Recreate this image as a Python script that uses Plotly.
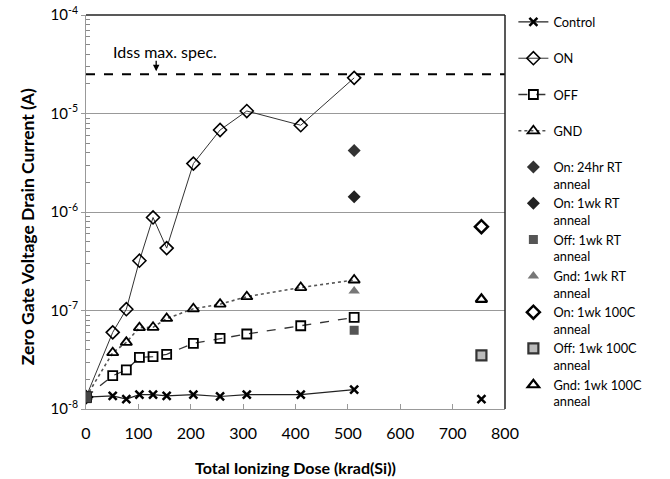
import plotly.graph_objects as go

# ---- data ----
dose = [0, 51, 77, 102, 128, 154, 205, 256, 307, 410, 512]
control = [1.32e-8, 1.36e-8, 1.26e-8, 1.4e-8, 1.4e-8, 1.36e-8, 1.4e-8, 1.34e-8, 1.4e-8, 1.4e-8, 1.57e-8]
on_bias = [1.32e-8, 6.0e-8, 1.03e-7, 3.2e-7, 8.8e-7, 4.3e-7, 3.1e-6, 6.8e-6, 1.06e-5, 7.6e-6, 2.3e-5]
off_bias = [1.32e-8, 2.18e-8, 2.49e-8, 3.35e-8, 3.4e-8, 3.59e-8, 4.64e-8, 5.22e-8, 5.77e-8, 7.0e-8, 8.5e-8]
gnd_bias = [1.32e-8, 3.73e-8, 4.75e-8, 6.7e-8, 6.75e-8, 8.3e-8, 1.04e-7, 1.16e-7, 1.38e-7, 1.71e-7, 2.04e-7]

anneal_rt_dose = [512]
on_24hr_rt = [4.2e-6]
on_1wk_rt = [1.43e-6]
off_1wk_rt = [6.3e-8]
gnd_1wk_rt = [1.58e-7]

anneal_100c_dose = [755]
on_1wk_100c = [7.1e-7]
off_1wk_100c = [3.5e-8]
gnd_1wk_100c = [1.3e-7]
control_755 = [1.26e-8]

spec_dose = [0, 800]
spec_limit = [2.5e-5, 2.5e-5]

x_ticks = [0, 100, 200, 300, 400, 500, 600, 700, 800]
y_ticks = [1e-8, 1e-7, 1e-6, 1e-5, 1e-4]
y_tick_text = ["10<sup>-8</sup>", "10<sup>-7</sup>", "10<sup>-6</sup>", "10<sup>-5</sup>", "10<sup>-4</sup>"]
y_minor_ticks = [m * d for d in (1e-8, 1e-7, 1e-6, 1e-5) for m in (2, 3, 4, 5, 6, 7, 8, 9)]

FONT = "Lato"

fig = go.Figure()

# spec line
fig.add_trace(go.Scatter(x=spec_dose, y=spec_limit, mode="lines",
                         line=dict(color="black", width=2, dash="dash"),
                         showlegend=False, hoverinfo="skip"))

fig.add_trace(go.Scatter(x=dose + [None] + anneal_100c_dose, y=control + [None] + control_755,
                         mode="lines+markers", name="Control<br> ", connectgaps=False,
                         line=dict(color="#222", width=1.2),
                         marker=dict(symbol="x-thin", size=8, line=dict(color="black", width=2.5))))
fig.add_trace(go.Scatter(x=dose, y=on_bias, mode="lines+markers", name="ON<br> ",
                         line=dict(color="#333", width=1),
                         marker=dict(symbol="diamond-open", size=10, color="black", line=dict(width=1.6))))
fig.add_trace(go.Scatter(x=dose, y=off_bias, mode="lines+markers", name="OFF<br> ",
                         line=dict(color="#333", width=1.3, dash="dash"),
                         marker=dict(symbol="square-open", size=9, color="black", line=dict(width=1.8))))
fig.add_trace(go.Scatter(x=dose, y=gnd_bias, mode="lines+markers", name="GND<br> ",
                         line=dict(color="#555", width=1.6, dash="dot"),
                         marker=dict(symbol="triangle-up-open", size=10, color="black", line=dict(width=1.8))))

fig.add_trace(go.Scatter(x=anneal_rt_dose, y=on_24hr_rt, mode="markers", name="On: 24hr RT<br>anneal",
                         marker=dict(symbol="diamond", size=10, color="#333")))
fig.add_trace(go.Scatter(x=anneal_rt_dose, y=on_1wk_rt, mode="markers", name="On: 1wk RT<br>anneal",
                         marker=dict(symbol="diamond", size=10, color="#222")))
fig.add_trace(go.Scatter(x=anneal_rt_dose, y=off_1wk_rt, mode="markers", name="Off: 1wk RT<br>anneal",
                         marker=dict(symbol="square", size=9, color="#555")))
fig.add_trace(go.Scatter(x=anneal_rt_dose, y=gnd_1wk_rt, mode="markers", name="Gnd: 1wk RT<br>anneal",
                         marker=dict(symbol="triangle-up", size=10, color="#777")))
fig.add_trace(go.Scatter(x=anneal_100c_dose, y=on_1wk_100c, mode="markers", name="On: 1wk 100C<br>anneal",
                         marker=dict(symbol="diamond-open", size=10, color="black", line=dict(width=2.5))))
fig.add_trace(go.Scatter(x=anneal_100c_dose, y=off_1wk_100c, mode="markers", name="Off: 1wk 100C<br>anneal",
                         marker=dict(symbol="square", size=10, color="#bbb", line=dict(color="#333", width=2.2))))
fig.add_trace(go.Scatter(x=anneal_100c_dose, y=gnd_1wk_100c, mode="markers", name="Gnd: 1wk 100C<br>anneal",
                         marker=dict(symbol="triangle-up-open", size=10, color="black", line=dict(width=2.2))))

# common starting point (pre-irradiation)
fig.add_trace(go.Scatter(x=dose[:1], y=control[:1], mode="markers", showlegend=False,
                         marker=dict(symbol="square", size=11, color="#444", line=dict(color="#222", width=1))))

fig.add_annotation(x=151, y=-4.37, xref="x", yref="y", text="Idss max. spec.", showarrow=False,
                   font=dict(family=FONT, size=16, color="black"))
fig.add_annotation(x=134, y=-4.57, xref="x", yref="y", ax=0, ay=-12, text="", showarrow=True,
                   arrowhead=2, arrowsize=1, arrowwidth=1.3, arrowcolor="black")

# y-axis title (placed as rotated text to match its offset)
fig.add_annotation(x=-0.138, y=0.462, xref="paper", yref="paper", xanchor="center", yanchor="middle",
                   text="<b>Zero Gate Voltage Drain Current (A)</b>", textangle=-90, showarrow=False,
                   font=dict(family=FONT, size=17.5, color="black"))

fig.update_layout(
    width=670, height=479,
    margin=dict(l=86, r=165, t=15, b=70, autoexpand=False),
    paper_bgcolor="white", plot_bgcolor="white",
    font=dict(family=FONT, size=15, color="black"),
    legend=dict(x=1.02, y=1.02, xanchor="left", yanchor="top", valign="top", maxheight=470,
                font=dict(family=FONT, size=12.8, color="black"),
                bgcolor="rgba(0,0,0,0)", tracegroupgap=0, itemwidth=30),
)
fig.update_xaxes(range=[0, 800], tickvals=x_ticks, showgrid=False, zeroline=False,
                 showline=True, linecolor="#999", linewidth=1, mirror=False,
                 ticks="inside", ticklen=5, tickcolor="#999", ticklabelstandoff=10,
                 tickfont=dict(size=16),
                 title=dict(text="<b>Total Ionizing Dose (krad(Si))</b>", font=dict(size=16), standoff=21))
fig.update_yaxes(type="log", range=[-8, -4], tickvals=y_ticks, ticktext=y_tick_text,
                 showgrid=True, gridcolor="#999", gridwidth=1, zeroline=False,
                 showline=True, linecolor="#999", linewidth=1,
                 ticks="outside", ticklen=4, tickcolor="#999", tickfont=dict(size=15),
                 minor=dict(ticks="inside", ticklen=4, tickcolor="#888", showgrid=False,
                            tickmode="array", tickvals=y_minor_ticks))

# top and right frame lines
fig.add_shape(type="line", xref="paper", yref="paper", x0=0, x1=1, y0=1, y1=1,
              line=dict(color="#222", width=1.5))
fig.add_shape(type="line", xref="paper", yref="paper", x0=1, x1=1, y0=0, y1=1,
              line=dict(color="#222", width=1.5))

fig.write_html("out.html")
